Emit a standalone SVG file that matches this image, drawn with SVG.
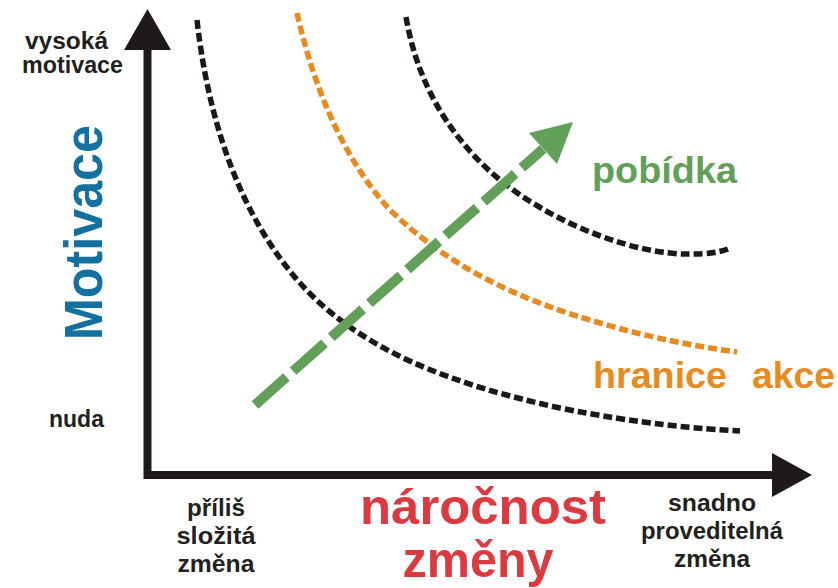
<svg xmlns="http://www.w3.org/2000/svg" width="838" height="588" viewBox="0 0 838 588">
<style>
.t{font-family:"Liberation Sans",Arial,sans-serif;font-weight:bold}
.s{font-size:23px;fill:#231f20}
.curve{fill:none;stroke-width:5.5;stroke-dasharray:9 4}
.blk{stroke:#1c1819}
.org{stroke:#e68a22}
</style>
<rect width="838" height="588" fill="#ffffff"/>
<g id="axes">
<path d="M147.5,48 L147.5,475 L774,475" fill="none" stroke="#1e1a1a" stroke-width="8" stroke-linejoin="miter"/>
<polygon points="147.5,9 124,50 171,50" fill="#1e1a1a"/>
<polygon points="812,475 772,453 772,497" fill="#1e1a1a"/>
</g>
<g id="connectors">
<path id="curve-low" class="curve blk" d="M197,20 C207,110 235,210 300,283 C360,350 450,384 560,408 C640,424 700,429 740,431"/>
<path id="curve-action" class="curve org" d="M297,13 C312,80 340,155 390,210 C450,268 520,300 600,323 C650,338 700,347 737,352"/>
<path id="curve-high" class="curve blk" d="M406,17 C415,70 440,130 500,180 C560,228 640,255 690,254 C710,254 720,252 728,249"/>
<g id="prompt-arrow">
<line x1="255" y1="405" x2="543" y2="149" stroke="#62a05a" stroke-width="10" stroke-dasharray="42 9"/>
<polygon points="573,122 529,133 557,164" fill="#62a05a"/>
</g>
</g>
<g id="label-high">
<text class="t s" x="25" y="49" textLength="83" lengthAdjust="spacingAndGlyphs">vysoká</text>
<text class="t s" x="22" y="73" textLength="101" lengthAdjust="spacingAndGlyphs">motivace</text>
</g>
<g id="label-low"><text class="t s" x="49" y="427" textLength="55" lengthAdjust="spacingAndGlyphs">nuda</text></g>
<g id="label-motivace"><text class="t" transform="translate(102,232.5) rotate(-90)" text-anchor="middle" font-size="53" fill="#14709f" textLength="215" lengthAdjust="spacingAndGlyphs">Motivace</text></g>
<g id="label-pobidka"><text class="t" x="592" y="183" font-size="37" fill="#62a05a" textLength="145" lengthAdjust="spacingAndGlyphs">pobídka</text></g>
<g id="label-hranice"><text class="t" y="388" font-size="36" fill="#e68a22"><tspan x="593" textLength="134" lengthAdjust="spacingAndGlyphs">hranice</tspan><tspan x="752" textLength="83" lengthAdjust="spacingAndGlyphs">akce</tspan></text></g>
<g id="label-hard">
<text class="t s" x="216" y="516" text-anchor="middle" textLength="58" lengthAdjust="spacingAndGlyphs">příliš</text>
<text class="t s" x="216" y="544" text-anchor="middle" textLength="79" lengthAdjust="spacingAndGlyphs">složitá</text>
<text class="t s" x="216" y="572" text-anchor="middle" textLength="77" lengthAdjust="spacingAndGlyphs">změna</text>
</g>
<g id="label-narocnost">
<text class="t" x="483" y="524" text-anchor="middle" font-size="50" fill="#dc3a41" textLength="246" lengthAdjust="spacingAndGlyphs">náročnost</text>
<text class="t" x="478" y="577" text-anchor="middle" font-size="50" fill="#dc3a41" textLength="151" lengthAdjust="spacingAndGlyphs">změny</text>
</g>
<g id="label-easy">
<text class="t s" x="712" y="511" text-anchor="middle" textLength="88" lengthAdjust="spacingAndGlyphs">snadno</text>
<text class="t s" x="712" y="539" text-anchor="middle" textLength="142" lengthAdjust="spacingAndGlyphs">proveditelná</text>
<text class="t s" x="712" y="567" text-anchor="middle" textLength="76" lengthAdjust="spacingAndGlyphs">změna</text>
</g>
</svg>
